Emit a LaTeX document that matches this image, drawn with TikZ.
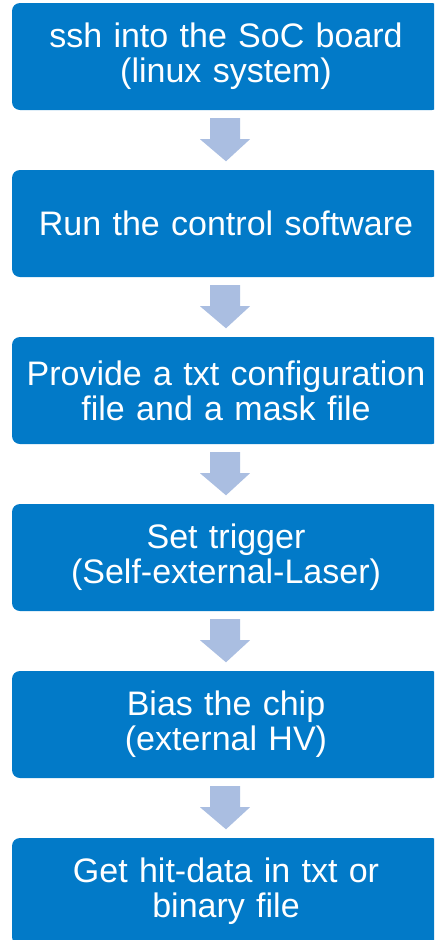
\documentclass[tikz,border=0pt]{standalone}
\usepackage{fontspec}
\setmainfont{Liberation Sans}
\usepackage{xcolor}
\usetikzlibrary{positioning, calc}

\definecolor{stepblue}{RGB}{2,122,200}
\definecolor{flowblue}{RGB}{170,190,225}

\tikzset{
  stepbox/.style={fill=stepblue, text=white, rounded corners=8pt, minimum width=428pt,
    minimum height=107pt, inner sep=0pt, align=center, text width=424pt,
    font=\fontsize{34}{35}\selectfont},
  flow/.style={fill=flowblue, draw=none}
}

% block arrow from the bottom of one step to the top of the next
\newcommand{\flowarrow}[2]{%
  \fill[flow] ($(#1.south)+(-16,-8)$) -- ($(#1.south)+(-16,-29)$) -- ($(#1.south)+(-26,-29)$)
    -- ($(#2.north)+(0,8.5)$) -- ($(#1.south)+(24,-29)$) -- ($(#1.south)+(14,-29)$)
    -- ($(#1.south)+(14,-8)$) -- cycle;}

\begin{document}
\begin{tikzpicture}[x=1pt, y=1pt, node distance=59.6pt]
      \useasboundingbox (0,0) rectangle (434,-940);
      \clip (0,0) rectangle (434,-940);
      \node[stepbox] (ssh) at (226,-56.5) {ssh into the SoC board\\(linux system)};
      \node[stepbox, below=of ssh] (run) {Run the control software};
      \node[stepbox, below=of run] (config) {Provide a txt configuration\\file and a mask file};
      \node[stepbox, below=of config] (trigger) {Set trigger\\(Self-external-Laser)};
      \node[stepbox, below=of trigger] (bias) {Bias the chip\\(external HV)};
      \node[stepbox, below=of bias] (hits) {Get hit-data in txt or\\binary file};
      \flowarrow{ssh}{run}
      \flowarrow{run}{config}
      \flowarrow{config}{trigger}
      \flowarrow{trigger}{bias}
      \flowarrow{bias}{hits}
    \end{tikzpicture}
\end{document}
